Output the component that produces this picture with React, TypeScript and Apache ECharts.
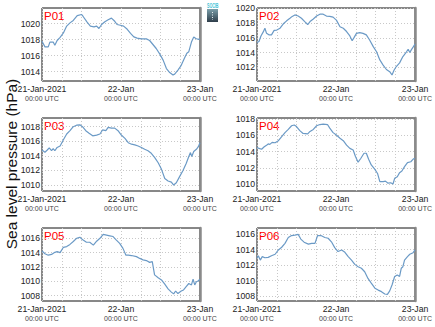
import React, { useEffect, useRef } from 'react';
import * as echarts from 'echarts';

const xTickHours = [0, 24, 48];
const xTickLabels = ['21-Jan-2021', '22-Jan', '23-Jan'];
const xTimeLabel = '00:00 UTC';
const panelNames = ['P01', 'P02', 'P03', 'P04', 'P05', 'P06'];
const yAxisTitle = 'Sea level pressure (hPa)';
const logoText = 'SOCIB';

// [hours since 21-Jan-2021 00:00 UTC, hPa]
const p01 = [
  [0, 1017.8], [0.9, 1017.1], [1.9, 1017.1], [2.4, 1017.7], [3.4, 1017.7], [3.9, 1017.3], [4.6, 1017.9],
  [5.5, 1018.3], [6.5, 1018.85], [7.5, 1019.7], [8.5, 1020.1], [9.5, 1020.4], [10.7, 1021.0], [12.0, 1021.15],
  [12.5, 1020.9], [13.7, 1020.2], [14.7, 1019.7], [15.8, 1019.6], [16.6, 1019.7], [17.3, 1019.4], [18.1, 1019.9],
  [19.1, 1020.25], [20.1, 1020.5], [21.1, 1020.7], [22.1, 1020.3], [22.8, 1019.9], [23.8, 1019.8], [24.8, 1019.7],
  [25.9, 1019.3], [26.9, 1018.8], [27.9, 1018.35], [28.9, 1018.2], [30.2, 1018.1], [31.7, 1018.1], [32.7, 1017.9],
  [33.7, 1017.4], [34.7, 1016.9], [35.8, 1016.2], [36.8, 1015.45], [37.8, 1014.4], [38.8, 1013.9], [39.8, 1013.6],
  [40.3, 1013.7], [41.3, 1014.2], [42.3, 1014.8], [43.3, 1015.7], [44.0, 1016.3], [44.6, 1016.5], [45.4, 1017.7],
  [46.1, 1018.35], [46.7, 1018.15], [47.4, 1018.05], [48, 1018.1],
];
const p02 = [
  [0, 1015.35], [0.6, 1015.5], [1.2, 1016.25], [1.9, 1016.8], [2.4, 1017.3], [2.9, 1016.6], [3.6, 1016.4],
  [4.4, 1016.4], [5.2, 1017.0], [6.0, 1017.05], [7.0, 1017.3], [8.0, 1017.9], [9.0, 1018.3], [10.0, 1018.65],
  [10.7, 1018.9], [11.5, 1019.1], [12.5, 1018.95], [13.5, 1018.65], [14.5, 1018.2], [15.4, 1017.8], [16.1, 1018.2],
  [17.1, 1018.55], [18.1, 1018.95], [19.1, 1019.2], [20.1, 1019.2], [21.1, 1018.95], [22.1, 1018.9], [23.1, 1018.8],
  [24.1, 1018.4], [25.2, 1017.5], [26.2, 1017.3], [27.2, 1016.85], [28.2, 1016.25], [28.9, 1015.6], [29.5, 1016.05],
  [30.2, 1016.6], [31.2, 1016.7], [32.2, 1016.6], [33.2, 1016.4], [34.2, 1015.7], [35.3, 1014.8], [36.3, 1014.1],
  [37.3, 1013.0], [38.3, 1012.3], [39.3, 1011.7], [40.3, 1011.4], [41.0, 1010.95], [41.6, 1011.6], [42.3, 1012.1],
  [43.3, 1012.6], [44.3, 1013.45], [45.4, 1014.1], [45.9, 1014.45], [46.4, 1014.0], [46.9, 1014.4], [47.5, 1014.8],
  [48, 1015.15],
];
const p03 = [
  [0, 1014.8], [0.9, 1014.5], [1.6, 1014.8], [2.2, 1015.1], [2.9, 1014.7], [3.4, 1015.0], [3.9, 1014.7],
  [4.6, 1015.15], [5.5, 1015.35], [6.5, 1016.2], [7.5, 1017.0], [8.5, 1017.45], [9.5, 1018.0], [10.5, 1018.2],
  [11.5, 1018.25], [12.3, 1018.0], [13.3, 1017.45], [14.3, 1017.1], [15.4, 1016.75], [16.6, 1016.85], [17.6, 1017.0],
  [18.4, 1017.55], [19.4, 1017.45], [20.1, 1017.9], [21.1, 1017.8], [22.1, 1017.8], [23.1, 1017.45], [24.1, 1016.85],
  [25.2, 1016.4], [26.2, 1015.8], [27.2, 1015.6], [28.2, 1015.5], [29.2, 1015.35], [30.2, 1015.15], [31.2, 1014.9],
  [32.2, 1014.7], [33.2, 1014.35], [34.2, 1013.8], [35.3, 1013.05], [36.3, 1012.15], [37.3, 1010.9], [38.3, 1010.55],
  [39.3, 1010.4], [40.0, 1010.0], [40.8, 1010.3], [41.8, 1011.15], [42.8, 1011.95], [43.8, 1012.95], [44.6, 1013.9],
  [45.1, 1014.45], [45.5, 1013.9], [46.1, 1014.6], [46.9, 1014.9], [47.5, 1015.25], [48, 1015.8],
];
const p04 = [
  [0, 1014.55], [0.6, 1014.4], [1.4, 1014.3], [2.2, 1014.6], [2.9, 1014.8], [3.4, 1014.95], [3.9, 1014.9],
  [4.6, 1015.15], [5.5, 1015.1], [6.5, 1015.35], [7.5, 1015.85], [8.5, 1016.35], [9.5, 1016.75], [10.5, 1017.2],
  [11.3, 1017.3], [12.0, 1017.1], [13.0, 1016.6], [14.0, 1016.25], [15.4, 1016.2], [16.1, 1016.5], [17.1, 1016.75],
  [18.1, 1017.2], [19.1, 1017.35], [20.1, 1017.4], [21.4, 1017.35], [22.1, 1016.9], [23.1, 1016.35], [24.1, 1016.05],
  [25.2, 1015.65], [26.2, 1015.35], [27.2, 1014.8], [28.2, 1014.4], [29.2, 1014.2], [29.9, 1013.4], [30.7, 1012.7],
  [31.5, 1013.15], [32.5, 1013.8], [33.2, 1013.8], [33.9, 1013.05], [34.7, 1012.35], [35.8, 1011.8], [36.6, 1011.3],
  [37.3, 1010.3], [38.3, 1010.3], [39.0, 1010.35], [39.8, 1010.1], [40.6, 1010.15], [41.3, 1010.0], [41.8, 1010.7],
  [42.6, 1010.9], [43.3, 1011.4], [44.0, 1011.6], [44.8, 1012.15], [45.7, 1012.65], [46.7, 1012.75], [47.5, 1013.1],
  [48, 1013.15],
];
const p05 = [
  [0, 1014.25], [0.9, 1013.85], [1.9, 1013.65], [2.9, 1013.75], [3.9, 1014.05], [4.6, 1014.15], [5.5, 1014.0],
  [6.5, 1014.75], [7.5, 1014.85], [8.5, 1015.15], [9.5, 1015.55], [10.5, 1016.0], [11.5, 1016.15], [12.5, 1015.75],
  [13.5, 1015.45], [14.5, 1015.45], [15.6, 1015.05], [16.6, 1015.6], [17.6, 1016.0], [18.6, 1016.55], [19.6, 1016.45],
  [20.6, 1016.35], [21.6, 1016.25], [22.6, 1015.75], [23.6, 1015.3], [24.6, 1014.6], [25.5, 1013.65], [26.2, 1013.65],
  [27.2, 1013.6], [28.7, 1013.45], [29.7, 1013.2], [30.7, 1013.0], [31.7, 1012.9], [32.7, 1012.65], [33.5, 1012.75],
  [34.2, 1010.9], [35.3, 1010.5], [36.3, 1010.2], [37.3, 1009.6], [38.3, 1008.95], [39.3, 1008.5], [40.0, 1008.25],
  [40.6, 1008.65], [41.3, 1008.3], [42.3, 1008.65], [43.0, 1008.8], [43.8, 1009.25], [44.6, 1009.7], [45.4, 1009.5],
  [45.9, 1010.3], [46.4, 1009.5], [46.9, 1009.95], [47.4, 1010.05], [48, 1010.3],
];
const p06 = [
  [0, 1012.9], [0.4, 1013.2], [1.0, 1012.65], [1.6, 1013.1], [2.4, 1012.95], [3.4, 1013.0], [4.4, 1013.2],
  [5.5, 1013.4], [6.5, 1013.95], [7.5, 1014.3], [8.5, 1014.8], [9.5, 1015.55], [10.5, 1015.8], [11.5, 1015.85],
  [12.5, 1015.95], [13.3, 1015.35], [14.3, 1014.95], [15.6, 1014.7], [16.6, 1014.8], [17.6, 1014.8], [18.4, 1015.8],
  [19.4, 1015.8], [20.6, 1015.55], [21.6, 1015.45], [22.6, 1015.0], [23.6, 1014.25], [24.6, 1013.75], [25.7, 1013.95],
  [26.7, 1013.65], [27.7, 1013.1], [28.7, 1012.65], [29.7, 1012.1], [30.7, 1011.8], [31.7, 1011.6], [32.7, 1011.15],
  [33.7, 1010.3], [34.7, 1009.7], [35.8, 1009.05], [36.8, 1008.8], [37.8, 1008.6], [38.8, 1008.3], [39.6, 1008.25],
  [40.3, 1008.7], [41.0, 1009.45], [41.8, 1010.55], [42.6, 1010.75], [43.3, 1010.55], [43.8, 1011.6], [44.3, 1011.8],
  [44.8, 1012.65], [45.7, 1013.1], [46.4, 1013.4], [47.4, 1013.6], [48, 1013.95],
];
const panelData = [p01, p02, p03, p04, p05, p06];

const yMins = [1012.84, 1010.14, 1009.18, 1009.13, 1007.26, 1007.4];
const yMaxs = [1021.96, 1020.04, 1019.19, 1018.16, 1017.44, 1016.77];
const yTicks = [
  [1014, 1016, 1018, 1020],
  [1012, 1014, 1016, 1018, 1020],
  [1010, 1012, 1014, 1016, 1018],
  [1010, 1012, 1014, 1016, 1018],
  [1008, 1010, 1012, 1014, 1016],
  [1008, 1010, 1012, 1014, 1016],
];

const FONT = '"Liberation Sans", Arial, Helvetica, sans-serif';

export default function App() {
  const ref = useRef<HTMLDivElement>(null);
  useEffect(() => {
    if (!ref.current) return;
    const chart = echarts.init(ref.current, null, { renderer: 'svg' });
    const lefts = [42, 257];
    const widths = [158, 159];
    const tops = [8, 118, 228];
    const H = 73;
    const grids: any[] = [];
    const xAxes: any[] = [];
    const yAxes: any[] = [];
    const series: any[] = [];
    const graphics: any[] = [];
    panelNames.forEach((name, i) => {
      const col = i % 2;
      const row = Math.floor(i / 2);
      grids.push({
        left: lefts[col], top: tops[row], width: widths[col], height: H,
        show: true, borderColor: '#111', borderWidth: 1, backgroundColor: 'transparent',
      });
      xAxes.push({
        type: 'value', gridIndex: i, min: 0, max: 48, interval: 6,
        axisLine: { show: false }, axisTick: { show: false },
        splitLine: { show: true, lineStyle: { color: '#c8c8c8', type: [1, 2], width: 1 } },
        axisLabel: {
          showMinLabel: true, showMaxLabel: true, margin: 3, color: '#333',
          formatter: (v: number) => {
            const k = xTickHours.indexOf(v);
            if (k < 0) return '';
            return '{a|' + xTickLabels[k] + '}\n{b|' + xTimeLabel + '}';
          },
          rich: {
            a: { fontFamily: FONT, fontSize: 8.7, color: '#222', lineHeight: 10 },
            b: { fontFamily: FONT, fontSize: 7, color: '#444', lineHeight: 9 },
          },
        },
      });
      yAxes.push({
        type: 'value', gridIndex: i, min: yMins[i], max: yMaxs[i], position: 'left',
        axisLine: { show: false },
        axisTick: { show: false, customValues: yTicks[i] },
        splitLine: { show: true, lineStyle: { color: '#c8c8c8', type: [1, 2], width: 1 } },
        axisLabel: {
          customValues: yTicks[i], fontFamily: FONT, fontSize: 8.7, color: '#222', margin: 2,
          formatter: (v: number) => String(v),
        },
      });
      yAxes.push({
        type: 'value', gridIndex: i, min: yMins[i], max: yMaxs[i], position: 'right',
        axisLine: { show: true, onZero: false, lineStyle: { color: '#8a8a8a', width: 2.5 } },
        axisTick: { show: false }, axisLabel: { show: false }, splitLine: { show: false },
      });
      series.push({
        type: 'line', xAxisIndex: i, yAxisIndex: i * 2, data: panelData[i],
        showSymbol: false, symbol: 'none',
        lineStyle: { color: '#6b9ac6', width: 1.2 },
      });
      graphics.push({
        type: 'text', left: lefts[col] + 2, top: tops[row] + 1.5,
        style: { text: name, fill: '#ff0000', fontFamily: FONT, fontSize: 11.5 },
      });
    });
    graphics.push({
      type: 'text', x: 11, y: 164, rotation: Math.PI / 2,
      style: {
        text: yAxisTitle, fill: '#111', fontFamily: FONT, fontSize: 15.5,
        align: 'center', verticalAlign: 'middle',
      },
    });
    graphics.push({
      type: 'group', x: 207, y: 2,
      children: [
        {
          type: 'text', x: 0, y: 0, scaleX: 0.52, scaleY: 1,
          style: {
            text: logoText, fill: '#3fc2d6', fontFamily: FONT, fontSize: 7, fontWeight: 'bold',
            x: 0, y: 0, align: 'left', verticalAlign: 'top',
          },
        },
        {
          type: 'rect', shape: { x: 0, y: 7, width: 11, height: 13 },
          style: {
            fill: new echarts.graphic.LinearGradient(0, 0, 0, 1, [
              { offset: 0, color: '#7a9ea9' },
              { offset: 1, color: '#2e3d4a' },
            ]),
          },
        },
        {
          type: 'line', shape: { x1: 5.5, y1: 10, x2: 5.5, y2: 18 },
          style: { stroke: '#e8f0f2', lineWidth: 1, lineDash: [1, 1.5] },
        },
      ],
    });
    chart.setOption({
      animation: false,
      grid: grids,
      xAxis: xAxes,
      yAxis: yAxes,
      series,
      graphic: graphics,
    });
    return () => chart.dispose();
  }, []);
  return (
    <div
      ref={ref}
      style={{ position: 'fixed', left: 0, top: 0, width: 435, height: 327, background: '#fff' }}
    />
  );
}
